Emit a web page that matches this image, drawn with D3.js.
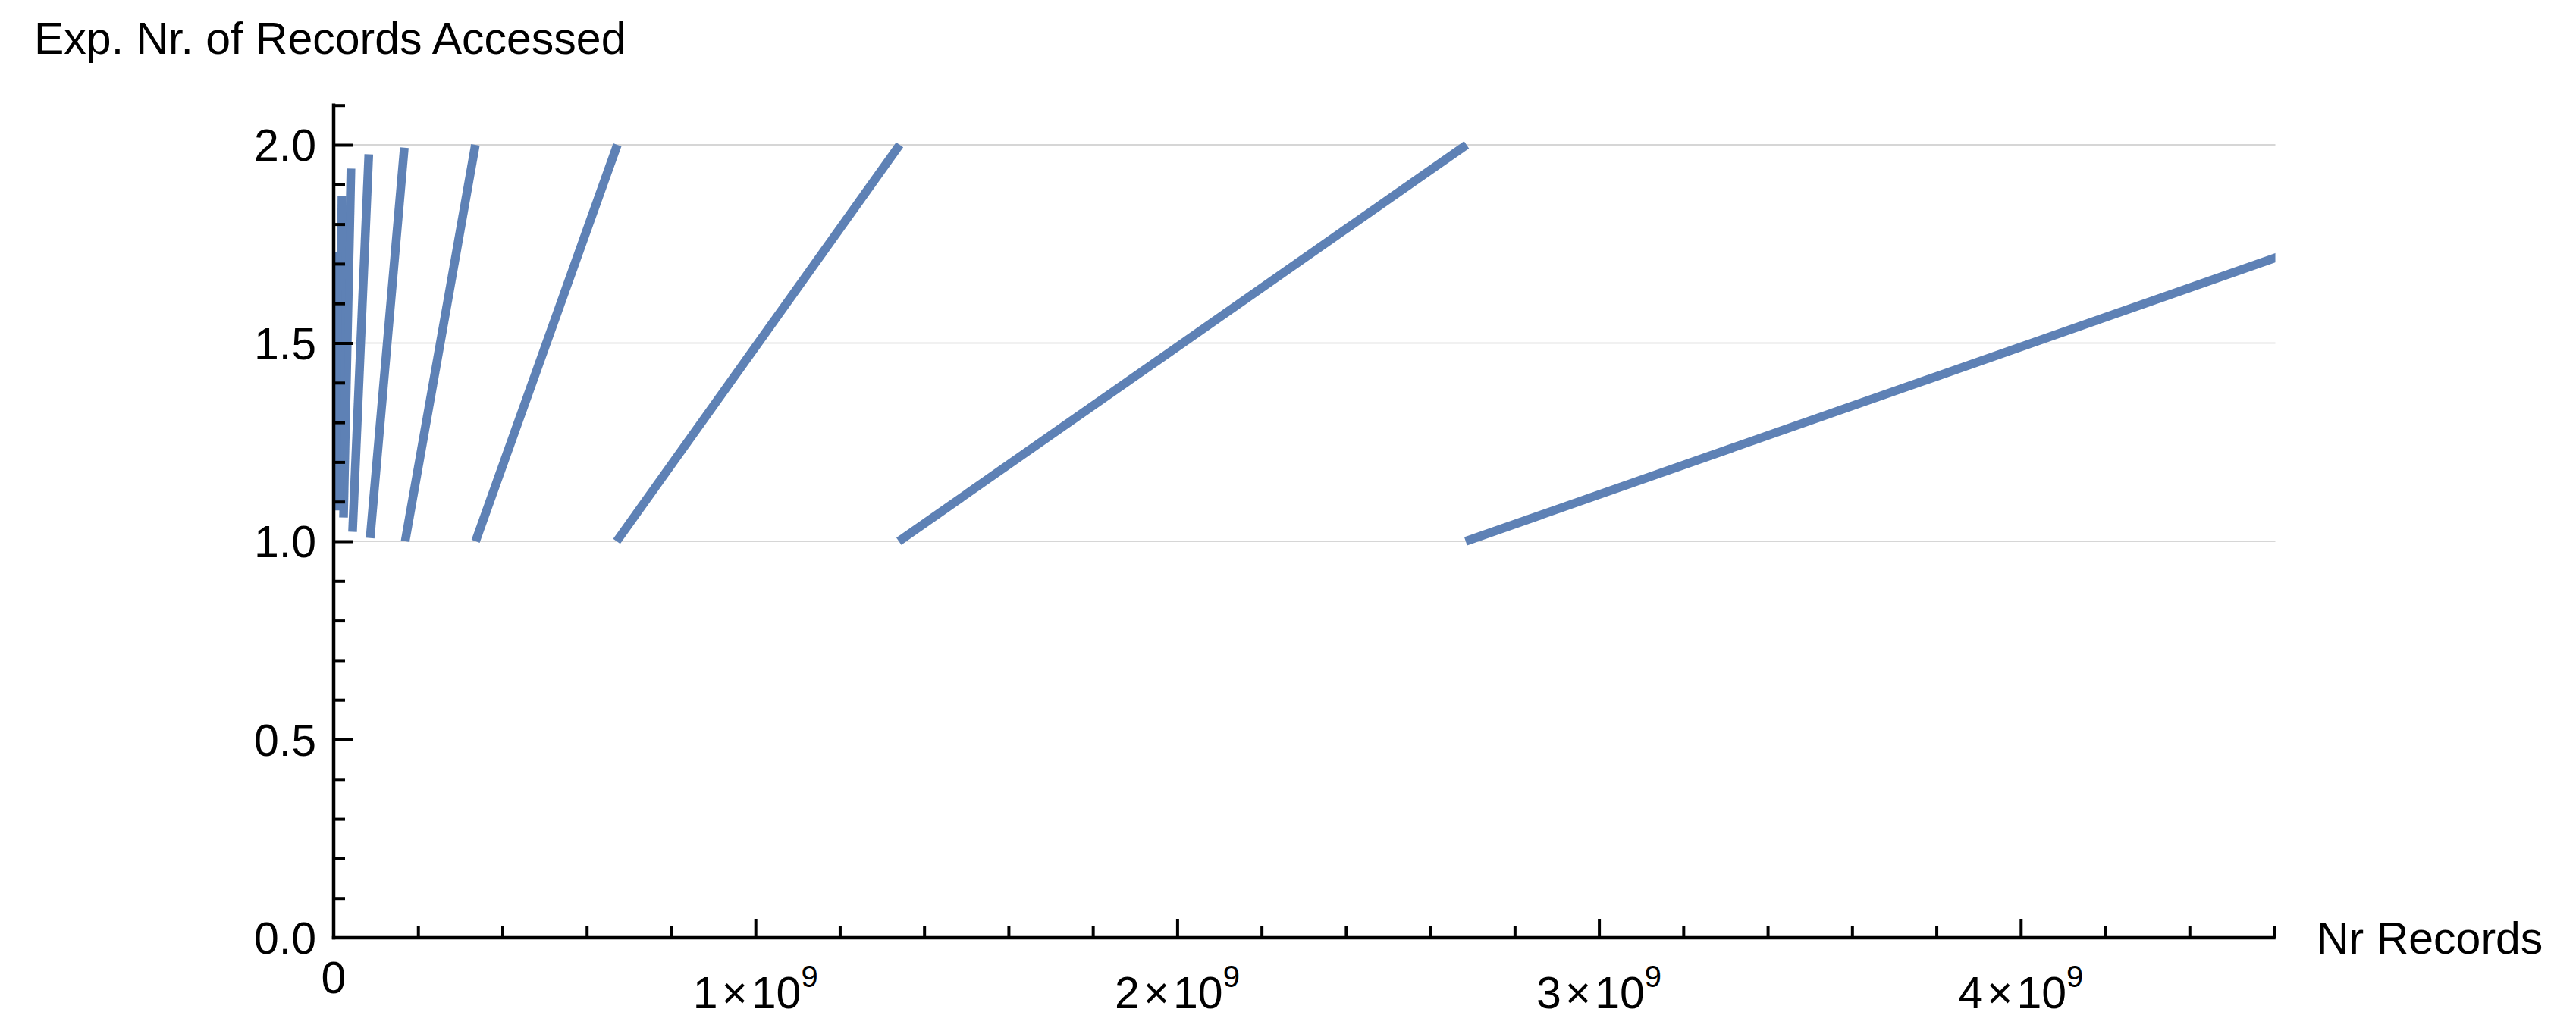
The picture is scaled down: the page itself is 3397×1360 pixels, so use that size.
<!DOCTYPE html>
<html>
<head>
<meta charset="utf-8">
<script src="https://cdn.jsdelivr.net/npm/d3@7"></script>
<style>
  html, body { margin: 0; padding: 0; background: #ffffff; }
  svg { display: block; }
  text { font-family: "Liberation Sans", Arial, Helvetica, sans-serif; fill: #000; }
</style>
</head>
<body>
<script>
// ---- Data ----
// Each saw-tooth segment drawn by the plot: start point (xStart, yStart) -> end point (xEnd, yEnd)
const segXStart = [2.684e9, 1.340e9, 0.671e9, 0.3365e9, 0.1695e9, 0.0865e9, 0.0448e9, 0.0234e9, 0.0113e9, 0.0058e9];
const segYStart = [1.000, 1.000, 1.000, 1.000, 1.000, 1.008, 1.024, 1.060, 1.078, 1.110];
const segXEnd   = [5.368e9, 2.686e9, 1.342e9, 0.6725e9, 0.336e9, 0.1675e9, 0.0833e9, 0.0410e9, 0.0197e9, 0.0090e9];
const segYEnd   = [2.000, 2.000, 2.000, 2.000, 2.000, 1.993, 1.976, 1.940, 1.870, 1.730];

const xMajorTicks = [0, 1e9, 2e9, 3e9, 4e9];
const xTickMantissa = ["0", "1", "2", "3", "4"];
const xTickExponent = ["", "9", "9", "9", "9"];
const yMajorTicks = [0, 0.5, 1.0, 1.5, 2.0];
const yTickLabels = ["0.0", "0.5", "1.0", "1.5", "2.0"];
const gridYValues = [1.0, 1.5, 2.0];

const xAxisTitle = "Nr Records";
const yAxisTitle = "Exp. Nr. of Records Accessed";

// ---- Layout ----
const W = 3397, H = 1360;
const xMax = 4.6e9, yMax = 2.1;
const x0px = 440, x1px = 440 + 4.6 * 556.2;
const y0px = 1237, y1px = 1237 - 2.1 * 523;

const svg = d3.select("body").append("svg")
  .attr("width", W).attr("height", H)
  .attr("viewBox", `0 0 ${W} ${H}`);

svg.append("rect").attr("width", W).attr("height", H).attr("fill", "#ffffff");

const x = d3.scaleLinear().domain([0, xMax]).range([x0px, x1px]);
const y = d3.scaleLinear().domain([0, yMax]).range([y0px, y1px]);

// clip to plot area
svg.append("defs").append("clipPath").attr("id", "plotclip")
  .append("rect")
  .attr("x", x(0)).attr("y", y(yMax) - 20)
  .attr("width", x(xMax) - x(0) + 2).attr("height", y(0) - y(yMax) + 20);

// grid lines
svg.append("g").selectAll("line").data(gridYValues).join("line")
  .attr("x1", x(0)).attr("x2", x(xMax) + 2)
  .attr("y1", d => y(d)).attr("y2", d => y(d))
  .attr("stroke", "#c8c8c8").attr("stroke-width", 1.6);

// segments
const segs = segXStart.map((xs, i) => [
  { x: xs, y: segYStart[i] },
  { x: segXEnd[i], y: segYEnd[i] }
]);
const line = d3.line().x(d => x(d.x)).y(d => y(d.y));
svg.append("g").attr("clip-path", "url(#plotclip)")
  .selectAll("path").data(segs).join("path")
  .attr("d", line)
  .attr("fill", "none")
  .attr("stroke", "#5E81B5")
  .attr("stroke-width", 11.5)
  .attr("stroke-linecap", "butt");

// ---- Axes ----
const axisW = 4.5;
const xMinorTicks = d3.range(0, 24).map(i => i * 0.2e9).filter(v => xMajorTicks.indexOf(v) < 0);
const yMinorTicks = d3.range(0, 22).map(i => +(i * 0.1).toFixed(1)).filter(v => yMajorTicks.indexOf(v) < 0);

function styleAxis(g) {
  g.select(".domain").remove();
  g.selectAll(".tick line").attr("stroke", "#000").attr("stroke-width", 4);
  g.selectAll(".tick text").remove();
}

// x axis ticks (pointing up)
svg.append("g").attr("transform", `translate(0,${y(0)})`)
  .call(d3.axisBottom(x).tickValues(xMinorTicks).tickSizeInner(-15).tickSizeOuter(0))
  .call(styleAxis);
svg.append("g").attr("transform", `translate(0,${y(0)})`)
  .call(d3.axisBottom(x).tickValues(xMajorTicks.filter(v => v > 0)).tickSizeInner(-25).tickSizeOuter(0))
  .call(styleAxis);

// y axis ticks (pointing right)
svg.append("g").attr("transform", `translate(${x(0)},0)`)
  .call(d3.axisLeft(y).tickValues(yMinorTicks).tickSizeInner(-15).tickSizeOuter(0))
  .call(styleAxis);
svg.append("g").attr("transform", `translate(${x(0)},0)`)
  .call(d3.axisLeft(y).tickValues(yMajorTicks.filter(v => v > 0)).tickSizeInner(-25).tickSizeOuter(0))
  .call(styleAxis);

// axis lines
svg.append("line")
  .attr("x1", x(0)).attr("x2", x(xMax))
  .attr("y1", y(0)).attr("y2", y(0))
  .attr("stroke", "#000").attr("stroke-width", axisW).attr("stroke-linecap", "square");
svg.append("line")
  .attr("x1", x(0)).attr("x2", x(0))
  .attr("y1", y(0)).attr("y2", y(yMax))
  .attr("stroke", "#000").attr("stroke-width", axisW).attr("stroke-linecap", "square");

// y tick labels
svg.append("g").selectAll("text").data(yMajorTicks).join("text")
  .attr("x", x(0) - 23)
  .attr("y", d => y(d) + 21)
  .attr("text-anchor", "end")
  .attr("font-size", 59)
  .text((d, i) => yTickLabels[i]);

// x tick labels
const xl = svg.append("g").selectAll("text").data(xMajorTicks).join("text")
  .attr("x", d => x(d))
  .attr("y", (d, i) => xTickExponent[i] ? 1330 : 1310)
  .attr("text-anchor", "middle")
  .attr("font-size", 59);
xl.each(function (d, i) {
  const t = d3.select(this);
  if (!xTickExponent[i]) {
    t.text(xTickMantissa[i]);
  } else {
    t.append("tspan").text(xTickMantissa[i] + "\u200A\u00D7\u200A10");
    t.append("tspan").attr("dy", -28).attr("font-size", 40).text(xTickExponent[i]);
  }
});

// axis titles
svg.append("text")
  .attr("x", 3055).attr("y", 1258)
  .attr("font-size", 59)
  .text(xAxisTitle);
svg.append("text")
  .attr("x", 45).attr("y", 71)
  .attr("font-size", 59)
  .text(yAxisTitle);
</script>
</body>
</html>
